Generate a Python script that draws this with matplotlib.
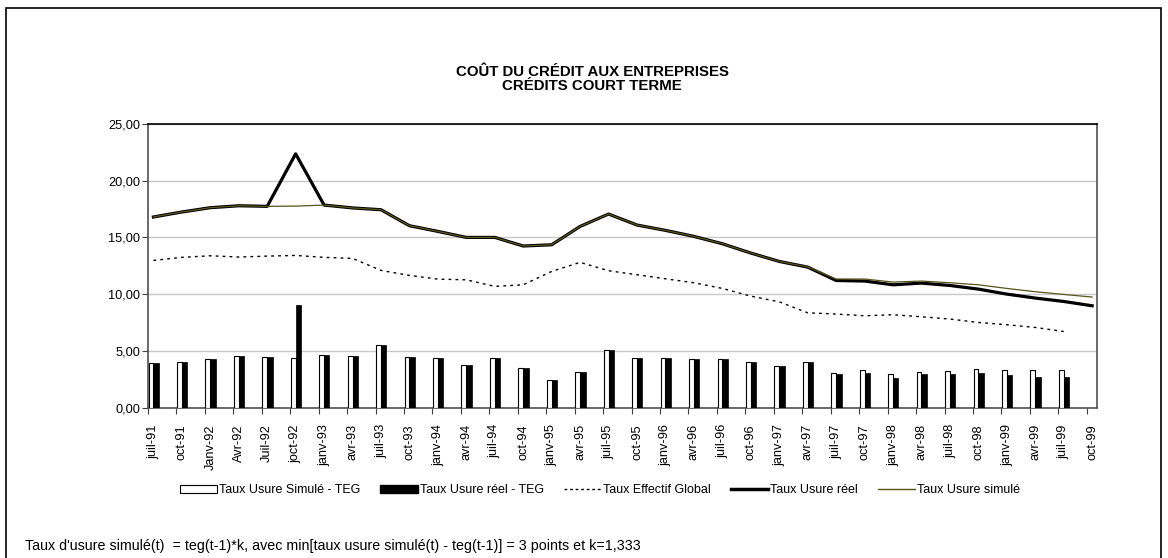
import numpy as np
import matplotlib
matplotlib.use("Agg")
import matplotlib.pyplot as plt
from matplotlib.patches import Rectangle
from matplotlib.lines import Line2D

plt.rcParams['font.family'] = ['Liberation Sans', 'DejaVu Sans']

# trimestres (libellés tels quels, y compris "joct-92")
trimestres = ['juil-91', 'oct-91', 'Janv-92', 'Avr-92', 'Juil-92', 'joct-92', 'janv-93', 'avr-93',
              'juil-93', 'oct-93', 'janv-94', 'avr-94', 'juil-94', 'oct-94', 'janv-95', 'avr-95',
              'juil-95', 'oct-95', 'janv-96', 'avr-96', 'juil-96', 'oct-96', 'janv-97', 'avr-97',
              'juil-97', 'oct-97', 'janv-98', 'avr-98', 'juil-98', 'oct-98', 'janv-99', 'avr-99',
              'juil-99', 'oct-99']

# taux d'usure réel
usure_reel = [16.80, 17.24, 17.62, 17.79, 17.74, 22.37, 17.85, 17.60, 17.44, 16.03, 15.53, 15.00,
              15.00, 14.24, 14.35, 15.97, 17.06, 16.09, 15.62, 15.09, 14.44, 13.62, 12.88, 12.38,
              11.20, 11.15, 10.82, 10.97, 10.76, 10.44, 10.00, 9.65, 9.35, 8.97]

# taux d'usure simulé
usure_simule = [16.80, 17.24, 17.62, 17.79, 17.74, 17.76, 17.85, 17.60, 17.44, 16.03, 15.53, 15.00,
                15.00, 14.24, 14.35, 15.97, 17.06, 16.09, 15.62, 15.09, 14.44, 13.62, 12.88, 12.40,
                11.33, 11.33, 11.06, 11.15, 11.00, 10.82, 10.50, 10.21, 9.97, 9.74]

# taux effectif global (pas de valeur pour oct-99)
teg = [12.97, 13.24, 13.38, 13.27, 13.35, 13.41, 13.24, 13.15, 12.09, 11.65, 11.32, 11.26,
       10.68, 10.82, 12.00, 12.80, 12.06, 11.71, 11.35, 11.00, 10.50, 9.82, 9.32, 8.35,
       8.24, 8.09, 8.18, 8.00, 7.80, 7.50, 7.30, 7.06, 6.70, np.nan]

# barres : écarts au TEG
ecart_simule = [3.93, 4.05, 4.32, 4.58, 4.43, 4.38, 4.67, 4.52, 5.50, 4.43, 4.35, 3.78,
                4.35, 3.48, 2.41, 3.15, 5.03, 4.40, 4.35, 4.26, 4.26, 4.02, 3.69, 4.02,
                3.07, 3.27, 2.92, 3.15, 3.24, 3.36, 3.33, 3.27, 3.33, np.nan]
ecart_reel = [3.93, 4.05, 4.32, 4.58, 4.43, 9.07, 4.67, 4.52, 5.50, 4.43, 4.35, 3.78,
              4.35, 3.48, 2.41, 3.15, 5.03, 4.40, 4.35, 4.26, 4.26, 4.02, 3.69, 4.02,
              2.92, 3.07, 2.62, 2.92, 2.98, 3.00, 2.83, 2.65, 2.65, np.nan]

yticks = [0, 5, 10, 15, 20, 25]
ylabels = ['0,00', '5,00', '10,00', '15,00', '20,00', '25,00']

x = np.arange(len(trimestres))
W, H = 1168, 558
fig = plt.figure(figsize=(W / 100, H / 100), dpi=100)
ax = fig.add_axes([148 / W, 1 - 407.5 / H, 949 / W, 283.5 / H])

olive = '#55551c'
bw = 0.17
ax.bar(x - bw, ecart_simule, width=bw, align='edge', color='white', edgecolor='black',
       linewidth=0.8, zorder=3, label='Taux Usure Simulé - TEG')
ax.bar(x, ecart_reel, width=bw + 0.02, align='edge', color='black', edgecolor='black',
       linewidth=0.5, zorder=3, label='Taux Usure réel - TEG')
ax.plot(x, teg, color='black', linestyle=(0, (2, 3)), linewidth=1.0, zorder=4,
        label='Taux Effectif Global')
ax.plot(x, usure_reel, color='black', linewidth=2.3, zorder=5, label='Taux Usure réel')
ax.plot(x, usure_simule, color=olive, linewidth=0.9, zorder=6, label='Taux Usure simulé')

ax.set_xlim(-0.19, 33.17)
ax.set_ylim(0, 25)
ax.set_yticks(yticks)
ax.set_yticklabels(ylabels)
ax.yaxis.grid(True, color='#c8c8c8', linewidth=1.0, zorder=0)
ax.set_axisbelow(True)

ax.set_xticks(x - 0.19)
ax.set_xticklabels([])
ax.set_xticks(x, minor=True)
ax.set_xticklabels(trimestres, minor=True, rotation=90, fontsize=9.2)
ax.tick_params(axis='x', which='minor', length=0, pad=12)
ax.tick_params(axis='x', which='major', direction='out', length=4, color='#404040')
ax.tick_params(axis='y', direction='out', length=4, color='#404040', labelsize=9.2, pad=1.5)

for s in ['left', 'right', 'bottom']:
    ax.spines[s].set_color('#505050')
    ax.spines[s].set_linewidth(1.2)
ax.spines['top'].set_color('black')
ax.spines['top'].set_linewidth(1.2)

fig.text(592 / W, 1 - 79.5 / H, "COÛT DU CRÉDIT AUX ENTREPRISES\nCRÉDITS COURT TERME",
         ha='center', va='center', fontsize=10.8, fontweight='bold', linespacing=1.0)

handles = [Rectangle((0, 0), 1, 1, facecolor='white', edgecolor='black', linewidth=0.8),
           Rectangle((0, 0), 1, 1, facecolor='black', edgecolor='black'),
           Line2D([], [], color='black', linestyle=(0, (2, 2)), linewidth=1.0),
           Line2D([], [], color='black', linewidth=2.5),
           Line2D([], [], color=olive, linewidth=1.0)]
labels = ['Taux Usure Simulé - TEG', 'Taux Usure réel - TEG', 'Taux Effectif Global',
          'Taux Usure réel', 'Taux Usure simulé']
fig.legend(handles, labels, loc='center', bbox_to_anchor=(600 / W, 1 - 490 / H), ncol=5,
           frameon=False, fontsize=9.0, handlelength=3.0, handleheight=0.6,
           handletextpad=0.15, columnspacing=1.6, borderaxespad=0)

fig.text(25 / W, 1 - 546 / H,
         "Taux d'usure simulé(t)  = teg(t-1)*k, avec min[taux usure simulé(t) - teg(t-1)] = 3 points et k=1,333",
         ha='left', va='center', fontsize=10.3)

fig.patches.append(Rectangle((6 / W, -0.01), 1155 / W, 1 - 8 / H + 0.01, transform=fig.transFigure,
                             fill=False, edgecolor='black', linewidth=1.2))

fig.savefig('out.png', dpi=100)
